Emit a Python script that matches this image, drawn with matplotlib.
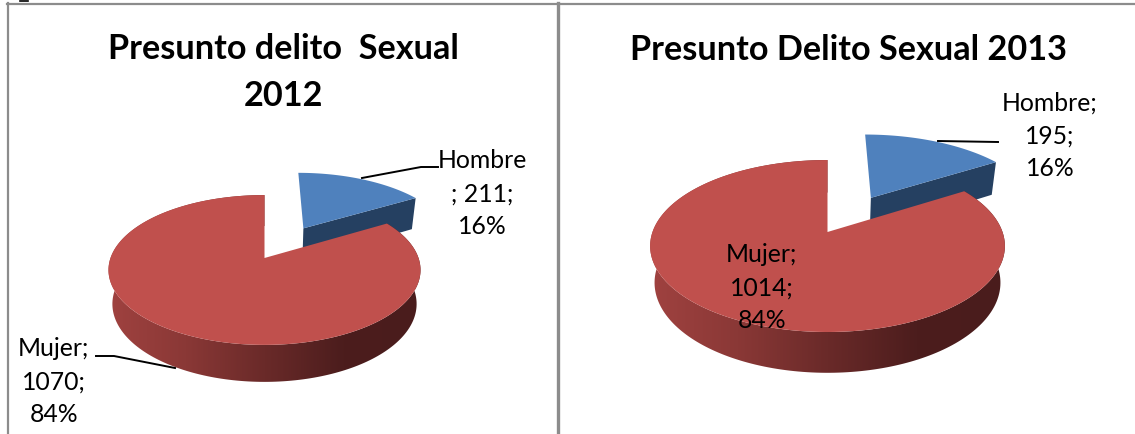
import numpy as np
import matplotlib
matplotlib.use("Agg")
import matplotlib.pyplot as plt
from matplotlib.colors import LinearSegmentedColormap
from matplotlib.patches import Polygon

categories = ["Hombre", "Mujer"]
values_2012 = [211, 1070]
values_2013 = [195, 1014]
percent_2012 = ["16%", "84%"]
percent_2013 = ["16%", "84%"]

plt.rcParams['font.family'] = ['Lato', 'DejaVu Sans']

BLUE = "#4f81bd"
BLUE_SIDE = "#254061"
RED = "#c0504d"
BORDER = "#8c8c8c"
wall_cmap = LinearSegmentedColormap.from_list(
    "wall", ["#a04240", "#8a3836", "#6a2a29", "#4c1d1d", "#4a1c1c"])


def project(theta, r, shift, g):
    # perspective of a flat disc, theta clockwise from 12 o'clock
    X = r * np.sin(theta) + shift[0]
    Y = r * np.cos(theta) + shift[1]
    w = 1 + g["p"] * Y
    return X / w, Y / w


def top_xy(theta, r, shift, g):
    u, v = project(theta, r, shift, g)
    return g["x0"] + g["a"] * u, g["y0"] - g["b"] * v


def bottom_xy(theta, r, shift, g):
    u, v = project(theta, r, shift, g)
    return g["x0"] + g["a"] * 0.975 * u, g["y0"] + g["depth"] - g["b"] * g["bscale"] * v


def draw_pie(ax, values, g):
    end = 2 * np.pi * values[0] / sum(values)
    mid = end / 2
    shift = (g["e"] * np.sin(mid) + g["nudge"] / g["a"], g["e"] * np.cos(mid))
    none = (0, 0)

    # blue slice, cut face first
    tx, ty = top_xy(np.array([end, end]), np.array([0, 1]), shift, g)
    bx, by = bottom_xy(np.array([end, end]), np.array([1, 0]), shift, g)
    ax.fill(np.r_[tx, bx], np.r_[ty, by], color=BLUE_SIDE, lw=0, zorder=2)
    th = np.linspace(0, end, 60)
    x, y = top_xy(th, 1, shift, g)
    ax_, ay_ = top_xy(np.array([0.0]), 0, shift, g)
    ax.fill(np.r_[ax_, x], np.r_[ay_, y], color=BLUE, lw=0, zorder=3)

    # red outer wall, gradient clipped to the wall outline
    th = np.linspace(end, 2 * np.pi, 240)
    tx, ty = top_xy(th, 1, none, g)
    bx, by = bottom_xy(th[::-1], 1, none, g)
    wall = Polygon(np.c_[np.r_[tx, bx], np.r_[ty, by]], closed=True,
                   transform=ax.transData, facecolor="none", edgecolor="none")
    ax.add_patch(wall)
    left, right = g["x0"] - 1.02 * g["a"], g["x0"] + 1.02 * g["a"]
    im = ax.imshow(np.linspace(0, 1, 256).reshape(1, -1), cmap=wall_cmap, aspect="auto",
                   extent=[left, right, by.max() + 2, ty.min() - 2], zorder=4)
    im.set_clip_path(wall)

    # red top face
    x, y = top_xy(th, 1, none, g)
    ax_, ay_ = top_xy(np.array([0.0]), 0, none, g)
    ax.fill(np.r_[ax_, x], np.r_[ay_, y], color=RED, lw=0, zorder=5)


fig = plt.figure(figsize=(11.35, 4.34), dpi=100)
ax = fig.add_axes([0, 0, 1, 1])

g_2012 = dict(x0=264.5, y0=258, a=154, b=73, p=0.16, e=0.5, depth=33.5, bscale=1.04, nudge=3.5)
g_2013 = dict(x0=827.5, y0=232, a=175, b=83.7, p=0.163, e=0.5, depth=36, bscale=1.048, nudge=4)
draw_pie(ax, values_2012, g_2012)
draw_pie(ax, values_2013, g_2013)

ax.set_xlim(0, 1135)
ax.set_ylim(434, 0)
ax.axis("off")

# frame of the two cells
ax.plot([7, 1135], [3.5, 3.5], color=BORDER, lw=1.6, zorder=1)
ax.plot([8, 8], [3, 434], color=BORDER, lw=1.6, zorder=1)
ax.plot([558, 558], [3, 434], color=BORDER, lw=2.4, zorder=1)
# bit of cut-off text above the frame
ax.plot([20, 28], [0.5, 0.5], color="black", lw=1.2, zorder=1)

title_style = dict(ha="center", va="center", fontweight="bold", fontsize=24.7,
                   color="black", zorder=8)
ax.text(283.5, 49, "Presunto delito  Sexual", **title_style)
ax.text(283.5, 96, "2012", **title_style)
ax.text(848, 50, "Presunto Delito Sexual 2013", **title_style)

label_style = dict(ha="center", va="center", fontsize=17.8, color="black", zorder=8)
ax.text(482, 161, categories[0], **label_style)
ax.text(482, 194, f"; {values_2012[0]};", **label_style)
ax.text(482, 227, percent_2012[0], **label_style)
ax.text(54, 349, f"{categories[1]};", **label_style)
ax.text(54, 382, f"{values_2012[1]};", **label_style)
ax.text(54, 415, percent_2012[1], **label_style)
ax.text(1050, 103, f"{categories[0]};", **label_style)
ax.text(1050, 136, f"{values_2013[0]};", **label_style)
ax.text(1050, 169, percent_2013[0], **label_style)
ax.text(762, 255, f"{categories[1]};", **label_style)
ax.text(762, 288, f"{values_2013[1]};", **label_style)
ax.text(762, 320, percent_2013[1], **label_style)

# leader lines
ax.plot([362, 421, 438], [178, 167, 167], color="black", lw=1.4, zorder=7)
ax.plot([175, 114, 96], [368, 356, 356], color="black", lw=1.4, zorder=7)
ax.plot([938, 998], [141, 142], color="black", lw=1.4, zorder=7)

fig.savefig("out.png", dpi=100)
